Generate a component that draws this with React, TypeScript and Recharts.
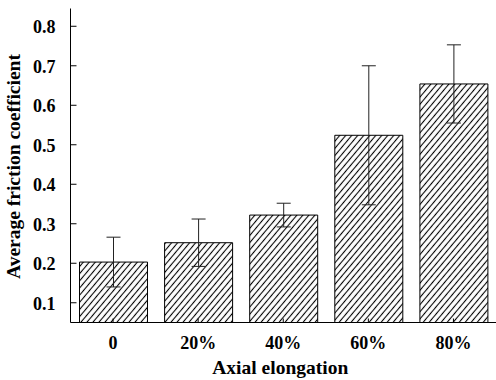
import React from 'react';
import { BarChart, Bar, XAxis, YAxis, ErrorBar } from 'recharts';

const categories = ['0', '20%', '40%', '60%', '80%'];
const friction = [0.203, 0.252, 0.322, 0.524, 0.654];
const frictionError = [0.063, 0.06, 0.03, 0.176, 0.099];
const yTicks = [0.1, 0.2, 0.3, 0.4, 0.5, 0.6, 0.7, 0.8];

const data = categories.map((c, i) => ({ name: c, value: friction[i], err: frictionError[i] }));

const FONT = "'Liberation Serif', 'Times New Roman', Times, 'DejaVu Serif', serif";
const textStyle = (size: number) => ({ fontFamily: FONT, fontWeight: 700, fontSize: size, fill: '#000' });

const YTick = (props: any) => {
  const { x, y, payload } = props;
  return (
    <g>
      <line x1={x + 15} x2={x + 21} y1={y} y2={y} stroke="#000" strokeWidth={1} />
      <text x={x} y={y + 7} textAnchor="end" style={textStyle(18)}>
        {Number(payload.value).toFixed(1)}
      </text>
    </g>
  );
};

const XTick = (props: any) => {
  const { x, y, payload } = props;
  return (
    <g>
      <line x1={x} x2={x} y1={y} y2={y - 4} stroke="#000" strokeWidth={1} />
      <text x={x} y={y + 26.5} textAnchor="middle" style={textStyle(18)}>
        {payload.value}
      </text>
    </g>
  );
};

const XLabel = (props: any) => {
  const vb = props.viewBox || {};
  return (
    <text x={vb.x + vb.width / 2 - 3} y={374} textAnchor="middle" style={textStyle(19.5)}>
      Axial elongation
    </text>
  );
};

const YLabel = (props: any) => {
  const vb = props.viewBox || {};
  const cy = vb.y + vb.height / 2 + 1;
  return (
    <text x={20} y={cy} transform={`rotate(-90, 20, ${cy})`} textAnchor="middle" style={textStyle(19.5)}>
      Average friction coefficient
    </text>
  );
};

export default function App() {
  return (
    <div style={{ position: 'absolute', left: 0, top: 0, width: 496, height: 380 }}>
      <BarChart width={496} height={380} data={data} margin={{ top: 8.5, right: 0, left: 0, bottom: 0 }}>
        <defs>
          <pattern id="hatch" patternUnits="userSpaceOnUse" width={4.6} height={10} patternTransform="rotate(40)">
            <rect x={0} y={0} width={4.6} height={10} fill="#fff" />
            <line x1={2.3} y1={0} x2={2.3} y2={10} stroke="#000" strokeWidth={1.1} />
          </pattern>
        </defs>
        <XAxis
          dataKey="name"
          height={57.5}
          tickSize={0}
          tickMargin={0}
          tickLine={false}
          axisLine={{ stroke: '#000', strokeWidth: 1 }}
          tick={<XTick />}
          interval={0}
          label={<XLabel />}
        />
        <XAxis xAxisId="top" dataKey="name" orientation="top" height={0} tick={false} tickLine={false} axisLine={{ stroke: '#000', strokeWidth: 1 }} />
        <YAxis
          type="number"
          domain={[0.05, 0.845]}
          ticks={yTicks}
          width={70.5}
          tickSize={0}
          tickMargin={15}
          tickLine={false}
          axisLine={{ stroke: '#000', strokeWidth: 1 }}
          tick={<YTick />}
          allowDataOverflow
          label={<YLabel />}
        />
        <Bar dataKey="value" barSize={68} fill="url(#hatch)" stroke="#000" strokeWidth={1} isAnimationActive={false}>
          <ErrorBar dataKey="err" width={7} stroke="#222" strokeWidth={1} isAnimationActive={false} />
        </Bar>
      </BarChart>
    </div>
  );
}
